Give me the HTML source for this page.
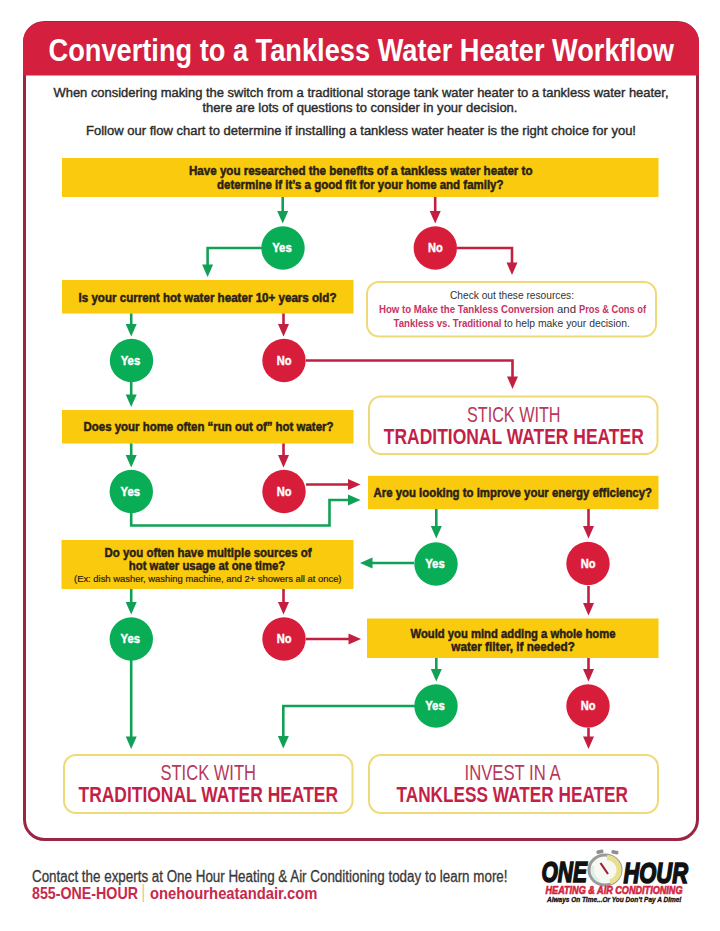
<!DOCTYPE html>
<html><head><meta charset="utf-8">
<style>
*{margin:0;padding:0}
html,body{width:720px;height:931px;background:#fff;overflow:hidden}
svg{display:block;font-family:"Liberation Sans",sans-serif}
</style></head><body>
<svg width="720" height="931" viewBox="0 0 720 931">
<rect x="24.5" y="22.5" width="673" height="817" rx="20" ry="20" fill="#fff" stroke="#9b2643" stroke-width="3"/>
<path d="M23 75.5 V42 A20 20 0 0 1 43 22 H679 A20 20 0 0 1 699 42 V75.5 Z" fill="#d41f3e"/>
<text x="48.5" y="60.5" font-size="32" font-weight="bold" fill="#fff" text-anchor="start" textLength="625.5" lengthAdjust="spacingAndGlyphs">Converting to a Tankless Water Heater Workflow</text>
<text x="53.5" y="97" font-size="13.2" fill="#2b2b2b" text-anchor="start" textLength="615" lengthAdjust="spacingAndGlyphs" stroke="#2b2b2b" stroke-width="0.4">When considering making the switch from a traditional storage tank water heater to a tankless water heater,</text>
<text x="202.5" y="112" font-size="13.2" fill="#2b2b2b" text-anchor="start" textLength="315" lengthAdjust="spacingAndGlyphs" stroke="#2b2b2b" stroke-width="0.4">there are lots of questions to consider in your decision.</text>
<text x="86" y="135" font-size="13.2" fill="#2b2b2b" text-anchor="start" textLength="550" lengthAdjust="spacingAndGlyphs" stroke="#2b2b2b" stroke-width="0.4">Follow our flow chart to determine if installing a tankless water heater is the right choice for you!</text>
<rect x="62" y="158" width="596.5" height="39" fill="#f9ca0d"/>
<rect x="62" y="280" width="291.5" height="33.5" fill="#f9ca0d"/>
<rect x="62" y="410" width="291.5" height="33.5" fill="#f9ca0d"/>
<rect x="368" y="475.8" width="290.5" height="33.39999999999998" fill="#f9ca0d"/>
<rect x="61.5" y="540" width="292.0" height="49" fill="#f9ca0d"/>
<rect x="367" y="618.5" width="291.5" height="39.5" fill="#f9ca0d"/>
<rect x="367" y="282" width="289" height="54.5" rx="12" ry="12" fill="#fff" stroke="#efd978" stroke-width="2"/>
<rect x="369" y="396.5" width="288.5" height="57.5" rx="12" ry="12" fill="#fff" stroke="#efd978" stroke-width="2"/>
<rect x="64" y="755" width="288.5" height="58" rx="12" ry="12" fill="#fff" stroke="#efd978" stroke-width="2"/>
<rect x="369" y="755" width="289" height="58" rx="12" ry="12" fill="#fff" stroke="#efd978" stroke-width="2"/>
<text x="189" y="174.5" font-size="13" font-weight="bold" fill="#2a2118" text-anchor="start" textLength="343.5" lengthAdjust="spacingAndGlyphs" stroke="#2a2118" stroke-width="0.5">Have you researched the benefits of a tankless water heater to</text>
<text x="217" y="188.7" font-size="13" font-weight="bold" fill="#2a2118" text-anchor="start" textLength="286.5" lengthAdjust="spacingAndGlyphs" stroke="#2a2118" stroke-width="0.5">determine if it’s a good fit for your home and family?</text>
<text x="78.5" y="301.7" font-size="13" font-weight="bold" fill="#2a2118" text-anchor="start" textLength="258" lengthAdjust="spacingAndGlyphs" stroke="#2a2118" stroke-width="0.5">Is your current hot water heater 10+ years old?</text>
<text x="83.5" y="431.3" font-size="13" font-weight="bold" fill="#2a2118" text-anchor="start" textLength="250" lengthAdjust="spacingAndGlyphs" stroke="#2a2118" stroke-width="0.5">Does your home often “run out of” hot water?</text>
<text x="373.5" y="496.7" font-size="13" font-weight="bold" fill="#2a2118" text-anchor="start" textLength="278.5" lengthAdjust="spacingAndGlyphs" stroke="#2a2118" stroke-width="0.5">Are you looking to improve your energy efficiency?</text>
<text x="104.5" y="557" font-size="13" font-weight="bold" fill="#2a2118" text-anchor="start" textLength="207" lengthAdjust="spacingAndGlyphs" stroke="#2a2118" stroke-width="0.5">Do you often have multiple sources of</text>
<text x="128.8" y="569.5" font-size="13" font-weight="bold" fill="#2a2118" text-anchor="start" textLength="156.5" lengthAdjust="spacingAndGlyphs" stroke="#2a2118" stroke-width="0.5">hot water usage at one time?</text>
<text x="74" y="581.8" font-size="9.5" fill="#2a2118" text-anchor="start" textLength="267.5" lengthAdjust="spacingAndGlyphs" stroke="#2a2118" stroke-width="0.2">(Ex: dish washer, washing machine, and 2+ showers all at once)</text>
<text x="410.5" y="637.5" font-size="13" font-weight="bold" fill="#2a2118" text-anchor="start" textLength="205" lengthAdjust="spacingAndGlyphs" stroke="#2a2118" stroke-width="0.5">Would you mind adding a whole home</text>
<text x="451.3" y="650.8" font-size="13" font-weight="bold" fill="#2a2118" text-anchor="start" textLength="123.5" lengthAdjust="spacingAndGlyphs" stroke="#2a2118" stroke-width="0.5">water filter, if needed?</text>
<text x="450" y="298.5" font-size="11" fill="#333" text-anchor="start" textLength="124" lengthAdjust="spacingAndGlyphs">Check out these resources:</text>
<text x="379" y="313" font-size="11" font-weight="bold" fill="#c53464" text-anchor="start" textLength="175" lengthAdjust="spacingAndGlyphs">How to Make the Tankless Conversion</text>
<text x="557" y="313" font-size="11" fill="#333" text-anchor="start" textLength="19" lengthAdjust="spacingAndGlyphs">and</text>
<text x="579" y="313" font-size="11" font-weight="bold" fill="#c53464" text-anchor="start" textLength="67" lengthAdjust="spacingAndGlyphs">Pros &amp; Cons of</text>
<text x="393.5" y="326.7" font-size="11" font-weight="bold" fill="#c53464" text-anchor="start" textLength="108" lengthAdjust="spacingAndGlyphs">Tankless vs. Traditional</text>
<text x="504" y="326.7" font-size="11" fill="#333" text-anchor="start" textLength="126" lengthAdjust="spacingAndGlyphs">to help make your decision.</text>
<text x="467" y="421.5" font-size="21.5" fill="#b8385a" text-anchor="start" textLength="93.5" lengthAdjust="spacingAndGlyphs">STICK WITH</text>
<text x="383.8" y="444" font-size="21.5" font-weight="bold" fill="#c41f48" text-anchor="start" textLength="260" lengthAdjust="spacingAndGlyphs">TRADITIONAL WATER HEATER</text>
<text x="160.5" y="780" font-size="21.5" fill="#b8385a" text-anchor="start" textLength="95.5" lengthAdjust="spacingAndGlyphs">STICK WITH</text>
<text x="78.5" y="802" font-size="21.5" font-weight="bold" fill="#c41f48" text-anchor="start" textLength="259.5" lengthAdjust="spacingAndGlyphs">TRADITIONAL WATER HEATER</text>
<text x="464.5" y="780" font-size="21.5" fill="#b8385a" text-anchor="start" textLength="96" lengthAdjust="spacingAndGlyphs">INVEST IN A</text>
<text x="396.5" y="802" font-size="21.5" font-weight="bold" fill="#c41f48" text-anchor="start" textLength="231.5" lengthAdjust="spacingAndGlyphs">TANKLESS WATER HEATER</text>
<path d="M282.7 197 L282.7 215.5" fill="none" stroke="#12a057" stroke-width="2.6" stroke-linejoin="miter"/>
<polygon points="277.2,211.0 288.2,211.0 282.7,223.5" fill="#12a057"/>
<path d="M262 248 L207.6 248 L207.6 268" fill="none" stroke="#12a057" stroke-width="2.6" stroke-linejoin="miter"/>
<polygon points="202.1,264.5 213.1,264.5 207.6,277" fill="#12a057"/>
<path d="M131.2 313.5 L131.2 328.5" fill="none" stroke="#12a057" stroke-width="2.6" stroke-linejoin="miter"/>
<polygon points="125.69999999999999,324.0 136.7,324.0 131.2,336.5" fill="#12a057"/>
<path d="M131.2 382 L131.2 399" fill="none" stroke="#12a057" stroke-width="2.6" stroke-linejoin="miter"/>
<polygon points="125.69999999999999,394.5 136.7,394.5 131.2,407" fill="#12a057"/>
<path d="M131.2 443.5 L131.2 459.5" fill="none" stroke="#12a057" stroke-width="2.6" stroke-linejoin="miter"/>
<polygon points="125.69999999999999,455.0 136.7,455.0 131.2,467.5" fill="#12a057"/>
<path d="M131.2 512 L131.2 525.5 L329.5 525.5 L329.5 500 L352 500" fill="none" stroke="#12a057" stroke-width="2.6" stroke-linejoin="miter"/>
<polygon points="348.0,494.5 348.0,505.5 360.5,500" fill="#12a057"/>
<path d="M436.3 509 L436.3 530.5" fill="none" stroke="#12a057" stroke-width="2.6" stroke-linejoin="miter"/>
<polygon points="430.8,526.0 441.8,526.0 436.3,538.5" fill="#12a057"/>
<path d="M414 563 L368 563" fill="none" stroke="#12a057" stroke-width="2.6" stroke-linejoin="miter"/>
<polygon points="372.5,557.5 372.5,568.5 360,563" fill="#12a057"/>
<path d="M131.2 589 L131.2 606.5" fill="none" stroke="#12a057" stroke-width="2.6" stroke-linejoin="miter"/>
<polygon points="125.69999999999999,602.0 136.7,602.0 131.2,614.5" fill="#12a057"/>
<path d="M131.2 660 L131.2 741" fill="none" stroke="#12a057" stroke-width="2.6" stroke-linejoin="miter"/>
<polygon points="125.69999999999999,736.5 136.7,736.5 131.2,749" fill="#12a057"/>
<path d="M436.3 658 L436.3 673.5" fill="none" stroke="#12a057" stroke-width="2.6" stroke-linejoin="miter"/>
<polygon points="430.8,669.0 441.8,669.0 436.3,681.5" fill="#12a057"/>
<path d="M415 706 L283.3 706 L283.3 740" fill="none" stroke="#12a057" stroke-width="2.6" stroke-linejoin="miter"/>
<polygon points="277.8,736.0 288.8,736.0 283.3,748.5" fill="#12a057"/>
<path d="M435.2 197 L435.2 215.5" fill="none" stroke="#c21f41" stroke-width="2.6" stroke-linejoin="miter"/>
<polygon points="429.7,211.0 440.7,211.0 435.2,223.5" fill="#c21f41"/>
<path d="M457 248 L512 248 L512 266" fill="none" stroke="#c21f41" stroke-width="2.6" stroke-linejoin="miter"/>
<polygon points="506.5,262.5 517.5,262.5 512,275" fill="#c21f41"/>
<path d="M283.5 313.5 L283.5 328.5" fill="none" stroke="#c21f41" stroke-width="2.6" stroke-linejoin="miter"/>
<polygon points="278.0,324.0 289.0,324.0 283.5,336.5" fill="#c21f41"/>
<path d="M306 360.5 L512.5 360.5 L512.5 380" fill="none" stroke="#c21f41" stroke-width="2.6" stroke-linejoin="miter"/>
<polygon points="507.0,376.5 518.0,376.5 512.5,389" fill="#c21f41"/>
<path d="M283.5 443.5 L283.5 459.5" fill="none" stroke="#c21f41" stroke-width="2.6" stroke-linejoin="miter"/>
<polygon points="278.0,455.0 289.0,455.0 283.5,467.5" fill="#c21f41"/>
<path d="M306 484.5 L352 484.5" fill="none" stroke="#c21f41" stroke-width="2.6" stroke-linejoin="miter"/>
<polygon points="348.0,479.0 348.0,490.0 360.5,484.5" fill="#c21f41"/>
<path d="M588.5 509 L588.5 530.5" fill="none" stroke="#c21f41" stroke-width="2.6" stroke-linejoin="miter"/>
<polygon points="583.0,526.0 594.0,526.0 588.5,538.5" fill="#c21f41"/>
<path d="M588.5 586 L588.5 607.5" fill="none" stroke="#c21f41" stroke-width="2.6" stroke-linejoin="miter"/>
<polygon points="583.0,603.0 594.0,603.0 588.5,615.5" fill="#c21f41"/>
<path d="M283.5 589 L283.5 606.5" fill="none" stroke="#c21f41" stroke-width="2.6" stroke-linejoin="miter"/>
<polygon points="278.0,602.0 289.0,602.0 283.5,614.5" fill="#c21f41"/>
<path d="M306 639 L352 639" fill="none" stroke="#c21f41" stroke-width="2.6" stroke-linejoin="miter"/>
<polygon points="348.5,633.5 348.5,644.5 361,639" fill="#c21f41"/>
<path d="M588.5 658 L588.5 673.5" fill="none" stroke="#c21f41" stroke-width="2.6" stroke-linejoin="miter"/>
<polygon points="583.0,669.0 594.0,669.0 588.5,681.5" fill="#c21f41"/>
<path d="M588.5 728 L588.5 741" fill="none" stroke="#c21f41" stroke-width="2.6" stroke-linejoin="miter"/>
<polygon points="583.0,736.5 594.0,736.5 588.5,749" fill="#c21f41"/>
<circle cx="283" cy="248" r="21.7" fill="#09ad55"/>
<text x="272.2" y="252.4" font-size="13.5" font-weight="bold" fill="#fff" text-anchor="start" textLength="19.5" lengthAdjust="spacingAndGlyphs" stroke="#fff" stroke-width="0.45">Yes</text>
<circle cx="435.3" cy="248" r="21.7" fill="#d81d3a"/>
<text x="428.0" y="252.4" font-size="13.5" font-weight="bold" fill="#fff" text-anchor="start" textLength="14.8" lengthAdjust="spacingAndGlyphs" stroke="#fff" stroke-width="0.45">No</text>
<circle cx="131.5" cy="360.5" r="21.7" fill="#09ad55"/>
<text x="120.7" y="364.9" font-size="13.5" font-weight="bold" fill="#fff" text-anchor="start" textLength="19.5" lengthAdjust="spacingAndGlyphs" stroke="#fff" stroke-width="0.45">Yes</text>
<circle cx="284" cy="360.5" r="21.7" fill="#d81d3a"/>
<text x="276.7" y="364.9" font-size="13.5" font-weight="bold" fill="#fff" text-anchor="start" textLength="14.8" lengthAdjust="spacingAndGlyphs" stroke="#fff" stroke-width="0.45">No</text>
<circle cx="131.3" cy="491.5" r="21.7" fill="#09ad55"/>
<text x="120.50000000000001" y="495.9" font-size="13.5" font-weight="bold" fill="#fff" text-anchor="start" textLength="19.5" lengthAdjust="spacingAndGlyphs" stroke="#fff" stroke-width="0.45">Yes</text>
<circle cx="284" cy="491.5" r="21.7" fill="#d81d3a"/>
<text x="276.7" y="495.9" font-size="13.5" font-weight="bold" fill="#fff" text-anchor="start" textLength="14.8" lengthAdjust="spacingAndGlyphs" stroke="#fff" stroke-width="0.45">No</text>
<circle cx="436" cy="564" r="21.7" fill="#09ad55"/>
<text x="425.2" y="568.4" font-size="13.5" font-weight="bold" fill="#fff" text-anchor="start" textLength="19.5" lengthAdjust="spacingAndGlyphs" stroke="#fff" stroke-width="0.45">Yes</text>
<circle cx="588" cy="563.5" r="21.7" fill="#d81d3a"/>
<text x="580.7" y="567.9" font-size="13.5" font-weight="bold" fill="#fff" text-anchor="start" textLength="14.8" lengthAdjust="spacingAndGlyphs" stroke="#fff" stroke-width="0.45">No</text>
<circle cx="131.3" cy="639" r="21.7" fill="#09ad55"/>
<text x="120.50000000000001" y="643.4" font-size="13.5" font-weight="bold" fill="#fff" text-anchor="start" textLength="19.5" lengthAdjust="spacingAndGlyphs" stroke="#fff" stroke-width="0.45">Yes</text>
<circle cx="284" cy="639" r="21.7" fill="#d81d3a"/>
<text x="276.7" y="643.4" font-size="13.5" font-weight="bold" fill="#fff" text-anchor="start" textLength="14.8" lengthAdjust="spacingAndGlyphs" stroke="#fff" stroke-width="0.45">No</text>
<circle cx="436" cy="706" r="21.7" fill="#09ad55"/>
<text x="425.2" y="710.4" font-size="13.5" font-weight="bold" fill="#fff" text-anchor="start" textLength="19.5" lengthAdjust="spacingAndGlyphs" stroke="#fff" stroke-width="0.45">Yes</text>
<circle cx="588" cy="706" r="21.7" fill="#d81d3a"/>
<text x="580.7" y="710.4" font-size="13.5" font-weight="bold" fill="#fff" text-anchor="start" textLength="14.8" lengthAdjust="spacingAndGlyphs" stroke="#fff" stroke-width="0.45">No</text>
<text x="32" y="881.8" font-size="16" fill="#383838" text-anchor="start" textLength="475.5" lengthAdjust="spacingAndGlyphs" stroke="#383838" stroke-width="0.3">Contact the experts at One Hour Heating &amp; Air Conditioning today to learn more!</text>
<text x="32" y="898.8" font-size="17" font-weight="bold" fill="#c8284c" text-anchor="start" textLength="106" lengthAdjust="spacingAndGlyphs">855-ONE-HOUR</text>
<rect x="142.5" y="884" width="1.6" height="18" fill="#f0d56e"/>
<text x="150" y="898.8" font-size="17" font-weight="bold" fill="#c8284c" text-anchor="start" textLength="167.5" lengthAdjust="spacingAndGlyphs">onehourheatandair.com</text>
<text x="541.5" y="882" font-size="29.5" font-weight="bold" font-style="italic" fill="#111" text-anchor="start" textLength="45.5" lengthAdjust="spacingAndGlyphs" stroke="#111" stroke-width="1.6">ONE</text>
<text x="623.5" y="882.5" font-size="29.5" font-weight="bold" font-style="italic" fill="#111" text-anchor="start" textLength="64.5" lengthAdjust="spacingAndGlyphs" stroke="#111" stroke-width="1.6">HOUR</text>
<rect x="596.5" y="850" width="7" height="3.5" rx="1" fill="#8f8f8f" transform="rotate(-12 600 852)"/>
<rect x="611.5" y="850.5" width="7" height="3.5" rx="1" fill="#8f8f8f" transform="rotate(12 615 852)"/>
<ellipse cx="605" cy="870" rx="16" ry="15" fill="#f7f7f4" stroke="#9a9a9a" stroke-width="3"/>
<path d="M607 857.5 A12.5 12.5 0 0 1 610 882" fill="none" stroke="#e9e08e" stroke-width="5"/>
<path d="M599 881 A12.5 12.5 0 0 1 593 866" fill="none" stroke="#dcefe6" stroke-width="3"/>
<line x1="600.5" y1="863" x2="608" y2="874" stroke="#9c2035" stroke-width="2.2"/>
<text x="545.5" y="894" font-size="10.5" font-weight="bold" font-style="italic" fill="#d4233f" text-anchor="start" textLength="137" lengthAdjust="spacingAndGlyphs" stroke="#d4233f" stroke-width="0.6">HEATING &amp; AIR CONDITIONING</text>
<text x="547" y="901.5" font-size="6.5" font-weight="bold" font-style="italic" fill="#111" text-anchor="start" textLength="134.5" lengthAdjust="spacingAndGlyphs" stroke="#111" stroke-width="0.3">Always On Time...Or You Don’t Pay A Dime!</text>
</svg>
</body></html>
